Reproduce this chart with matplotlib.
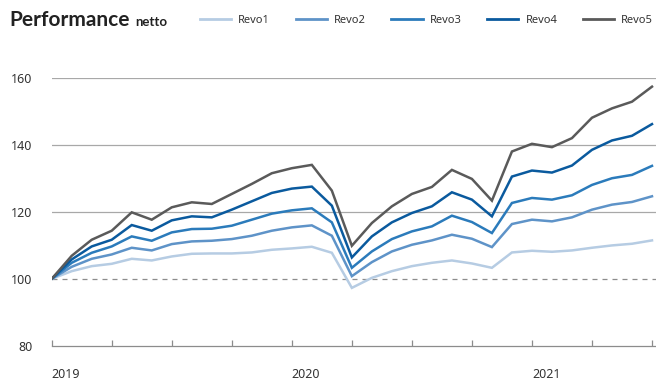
import matplotlib
matplotlib.use('Agg')
import matplotlib.pyplot as plt
import matplotlib.ticker as ticker
import numpy as np

plt.rcParams['font.family'] = ['Noto Sans', 'DejaVu Sans']

# monthly index values, Jan 2019 .. Jul 2021 (start = 100)
months = np.arange(31)
revo1 = [100, 102.3, 103.8, 104.5, 106.0, 105.5, 106.7, 107.5, 107.6, 107.6, 107.9, 108.7, 109.1, 109.6,
         107.8, 97.3, 100.3, 102.3, 103.8, 104.8, 105.5, 104.6, 103.3, 107.9, 108.4, 108.1, 108.5,
         109.3, 110.0, 110.5, 111.5]
revo2 = [100, 103.6, 106.0, 107.3, 109.3, 108.5, 110.4, 111.2, 111.4, 111.9, 112.9, 114.4, 115.4, 116.0,
         112.9, 100.8, 105.0, 108.2, 110.2, 111.5, 113.2, 112.0, 109.5, 116.4, 117.7, 117.2, 118.4,
         120.7, 122.2, 123.0, 124.7]
revo3 = [100, 104.8, 107.8, 109.7, 112.7, 111.4, 113.9, 114.9, 115.0, 115.9, 117.7, 119.5, 120.5, 121.1,
         116.9, 103.3, 108.2, 111.9, 114.2, 115.7, 118.9, 117.0, 113.7, 122.7, 124.2, 123.7, 125.0,
         128.1, 130.1, 131.1, 133.8]
revo4 = [100, 105.8, 109.7, 111.7, 116.1, 114.4, 117.5, 118.7, 118.4, 120.7, 123.2, 125.7, 127.0, 127.6,
         121.9, 106.4, 112.7, 116.9, 119.7, 121.7, 125.9, 123.7, 118.7, 130.6, 132.4, 131.8, 133.9,
         138.6, 141.4, 142.8, 146.3]
revo5 = [100, 106.9, 111.7, 114.4, 119.9, 117.7, 121.4, 122.9, 122.4, 125.4, 128.4, 131.6, 133.1, 134.1,
         126.4, 109.9, 116.7, 121.7, 125.4, 127.5, 132.6, 129.9, 123.4, 138.1, 140.4, 139.4, 142.1,
         148.2, 151.0, 153.0, 157.5]

series = [('Revo1', revo1), ('Revo2', revo2), ('Revo3', revo3), ('Revo4', revo4), ('Revo5', revo5)]
colors = ['#b6cce3', '#5e93c8', '#2b7bbb', '#0a5a9e', '#5a5a5a']

y_ticks = [80, 100, 120, 140, 160]
x_ticks = list(range(0, 31, 3))
year_labels = {0: '2019', 12: '2020', 24: '2021'}

fig = plt.figure(figsize=(6.56, 3.91), dpi=100)
ax = fig.add_axes([51.7 / 656, 1 - 345.7 / 391, 1 - 51.7 / 656, (345.7 - 78.3) / 391])

# gridlines
for yv in y_ticks[2:]:
    ax.axhline(yv, color='#a8a8a8', lw=0.9, zorder=1)
ax.axhline(100, color='#8c8c8c', lw=0.9, dashes=(4, 4), zorder=1)

for (name, vals), c in zip(series, colors):
    ax.plot(months, vals, color=c, lw=1.8, label=name, zorder=3, solid_joinstyle='miter')

ax.set_xlim(0, 30.2)
ax.set_ylim(80, 160)

for s in ['top', 'right', 'left']:
    ax.spines[s].set_visible(False)
ax.spines['bottom'].set_color('#8c8c8c')
ax.spines['bottom'].set_linewidth(0.9)

ax.set_yticks(y_ticks)
ax.tick_params(axis='y', length=0, pad=14, labelsize=9, labelcolor='#333333')
for lab in ax.get_yticklabels():
    lab.set_horizontalalignment('right')

ax.set_xticks(x_ticks)
ax.xaxis.set_major_formatter(ticker.FixedFormatter([year_labels.get(t, '') for t in x_ticks]))
ax.tick_params(axis='x', direction='in', length=4, width=0.9, color='#8c8c8c',
               pad=16, labelsize=9, labelcolor='#333333')
for lab in ax.get_xticklabels():
    lab.set_horizontalalignment('left')

# title
title_font = ['Lato', 'DejaVu Sans']
t = fig.text(9 / 656, 1 - 26 / 391, 'Performance', fontsize=15, fontweight='bold',
             family=title_font, color='#222222', va='baseline')
fig.canvas.draw()
bb = t.get_window_extent()
fig.text(bb.x1 / 656 + 6 / 656, 1 - 26 / 391, 'netto', fontsize=9.5, fontweight='bold',
         family=title_font, color='#222222', va='baseline')

fig.legend(loc='center left', bbox_to_anchor=(200 / 656, 1 - 20.7 / 391), ncol=5,
           frameon=False, fontsize=8, handlelength=2.8, handletextpad=0.65,
           columnspacing=2.3, borderpad=0, borderaxespad=0, labelcolor='#333333')
for line in fig.legends[0].get_lines():
    line.set_linewidth(2.0)

fig.savefig('out.png', dpi=100)
